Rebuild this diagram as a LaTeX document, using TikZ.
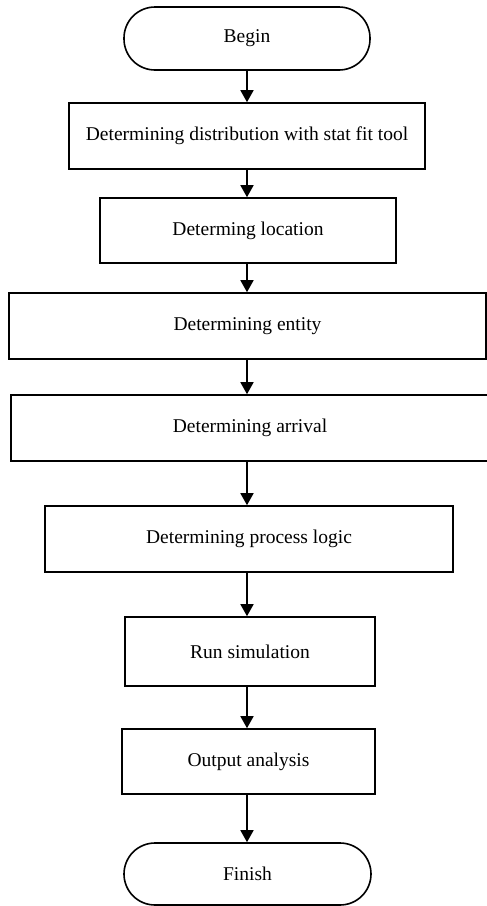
\documentclass[tikz,border=0pt]{standalone}
\usepackage{fontspec}
\setmainfont{Liberation Serif}
\usepackage{tikz}
\usetikzlibrary{arrows.meta}
\tikzset{
	termnode/.style={rectangle, rounded corners=31pt, draw=black, line width=1.6pt, minimum width=246pt, minimum height=63pt, inner sep=0pt, font=\fontsize{19.5}{22}\selectfont},
	rectnode/.style={rectangle, draw=black, line width=1.6pt, minimum height=66pt, inner sep=0pt, font=\fontsize{19.5}{22}\selectfont},
	flowarrow/.style = {-{Triangle[length=12pt,width=13pt]}, line width=1.6pt}
}
\begin{document}
\begin{tikzpicture}[x=1pt,y=-1pt]
	\useasboundingbox (0,0) rectangle (487,906);
		\node[termnode] at (247,38.5) (begin)     {Begin};
		\node[rectnode, minimum width=356pt] at (247,136) (distfit)    {Determining distribution with stat fit tool};
		\node[rectnode, minimum width=296pt, minimum height=65pt] at (248,230.5) (location)    {Determing location};
		\node[rectnode, minimum width=477pt] at (247.5,326) (entity)    {Determining entity};
		\node[rectnode, minimum width=478pt] at (250,428) (arrival)    {Determining arrival};
		\node[rectnode, minimum width=408pt] at (249,539) (logic)    {Determining process logic};
		\node[rectnode, minimum width=250pt, minimum height=69pt] at (250,651.5) (runsim)    {Run simulation};
		\node[rectnode, minimum width=253pt, minimum height=65pt] at (248.5,761.5) (output)    {Output analysis};
		\node[termnode, minimum width=247pt, minimum height=62pt] at (247.5,874) (finish)    {Finish};

		\foreach \a/\b in {begin/distfit, distfit/location, location/entity, entity/arrival, arrival/logic, logic/runsim, runsim/output, output/finish}
			\draw[flowarrow] (\a.south -| begin) -- (\b.north -| begin);

	\end{tikzpicture}
\end{document}
